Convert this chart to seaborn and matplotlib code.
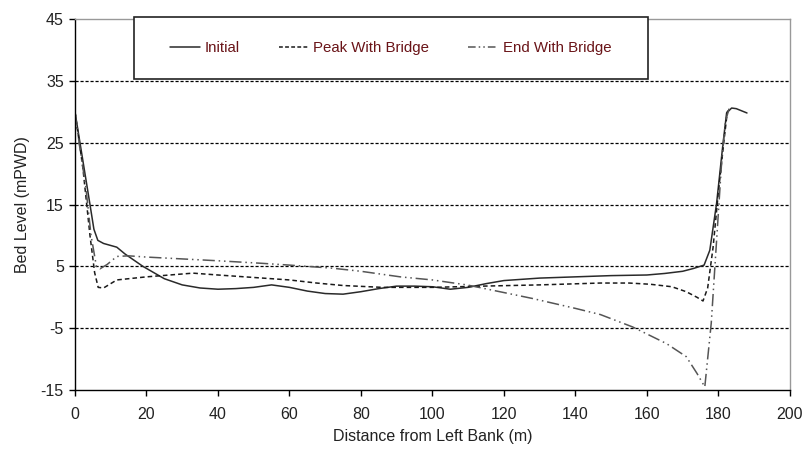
import numpy as np
import pandas as pd
import matplotlib
matplotlib.use("Agg")
import matplotlib.pyplot as plt
from matplotlib.patches import Rectangle
from matplotlib.lines import Line2D
import seaborn as sns

# ---- data ----
initial_x = [0, 1.4, 4.2, 5.3, 6.4, 8, 11.7, 14, 19, 25, 30, 35, 40, 45, 50, 55, 60, 65,
             70, 75, 80, 85, 90, 95, 100, 105, 110, 115, 120, 130, 140, 150, 160, 165,
             170, 173, 176, 177.6, 179.5, 181.3, 182.3, 183.7, 185, 188]
initial_y = [30, 25, 15, 11, 9.2, 8.7, 8.1, 7.0, 5.0, 3.0, 2.0, 1.5, 1.3, 1.4, 1.6, 2.0,
             1.6, 1.0, 0.6, 0.5, 0.9, 1.4, 1.8, 1.8, 1.7, 1.3, 1.6, 2.2, 2.7, 3.1, 3.3,
             3.5, 3.6, 3.85, 4.2, 4.65, 5.2, 7.6, 15.2, 24.9, 29.8, 30.6, 30.5, 29.8]

peak_x = [0, 2.2, 4.2, 5.5, 6.5, 8, 11.7, 20, 33, 40, 50, 60, 67.6, 75, 86, 100, 114,
          130, 147, 155, 161, 167, 171, 174, 175.7, 177, 178.5, 180, 181.5, 182.5, 183.5]
peak_y = [30, 21, 10, 4, 1.6, 1.5, 2.8, 3.3, 3.9, 3.6, 3.2, 2.8, 2.3, 1.9, 1.6, 1.6, 1.8,
          2.0, 2.3, 2.3, 2.1, 1.7, 0.9, 0.0, -0.6, 1.5, 8, 17, 25, 30, 30.6]

end_x = [0, 1.4, 3, 4.5, 6, 7, 9, 11.7, 15, 20, 30, 40, 52, 60, 72, 80, 91, 100, 109.6,
         118, 128, 140, 147, 156, 165.5, 171, 174, 176.2, 178, 179.5, 181, 182, 183]
end_y = [30, 24, 18, 10, 5, 4.6, 5.3, 6.6, 6.7, 6.5, 6.2, 5.9, 5.5, 5.2, 4.7, 4.2, 3.3,
         2.8, 2.0, 1.0, -0.2, -1.8, -2.8, -4.8, -7.5, -9.6, -12.3, -14.5, -4.2, 9.2,
         22.7, 28.5, 30.5]

series_names = ["Initial", "Peak With Bridge", "End With Bridge"]
x_ticks = list(range(0, 201, 20))
y_ticks = list(range(-15, 46, 10))

df = pd.concat([
    pd.DataFrame({"x": initial_x, "y": initial_y, "s": series_names[0]}),
    pd.DataFrame({"x": peak_x, "y": peak_y, "s": series_names[1]}),
    pd.DataFrame({"x": end_x, "y": end_y, "s": series_names[2]}),
], ignore_index=True)

sns.set_style("white")
plt.rcParams["font.family"] = ["Liberation Sans", "DejaVu Sans"]
plt.rcParams["axes.unicode_minus"] = False

fig = plt.figure(figsize=(8.06, 4.5), dpi=100)
ax = fig.add_axes([0.093, 0.1333, 0.887, 0.8245])

palette = {series_names[0]: "#2a2a2a", series_names[1]: "#1a1a1a", series_names[2]: "#555555"}
dash_end = (8, 2.5, 1, 2.5, 1, 2.5)
dashes = {series_names[0]: "", series_names[1]: (3, 2), series_names[2]: dash_end}

sns.lineplot(data=df, x="x", y="y", hue="s", style="s", palette=palette, dashes=dashes,
             sort=False, estimator=None, linewidth=1.1, ax=ax, legend=False)

# gridlines
for yv in y_ticks[1:-1]:
    ax.axhline(yv, color="black", linestyle=(0, (2.5, 1.5)), linewidth=0.9, zorder=0)

ax.set_xlim(0, 200)
ax.set_ylim(-15, 45)
ax.set_xticks(x_ticks)
ax.set_yticks(y_ticks)
ax.tick_params(axis="both", direction="out", length=4, width=1, color="black",
               labelsize=11.5, labelcolor="#222222", bottom=True, left=True)
ax.tick_params(axis="x", pad=8)
ax.tick_params(axis="y", pad=4)
ax.set_xlabel("Distance from Left Bank (m)", fontsize=11.5, color="#222222", labelpad=5)
ax.set_ylabel("Bed Level (mPWD)", fontsize=11.5, color="#222222", labelpad=8)

for side in ["left", "bottom"]:
    ax.spines[side].set_color("black")
    ax.spines[side].set_linewidth(1.0)
for side in ["top", "right"]:
    ax.spines[side].set_color("#999999")
    ax.spines[side].set_linewidth(1.0)

# legend box
box = Rectangle((0.0825, 0.838), 0.719, 0.167, transform=ax.transAxes,
                facecolor="white", edgecolor="#222222", linewidth=1.2, zorder=5,
                clip_on=False)
ax.add_patch(box)

handles = [
    Line2D([], [], color=palette[series_names[0]], linewidth=1.1),
    Line2D([], [], color=palette[series_names[1]], linewidth=1.1, dashes=(2.5, 1.5)),
    Line2D([], [], color=palette[series_names[2]], linewidth=1.1, dashes=(5, 2, 1, 2, 1, 2)),
]
leg = ax.legend(handles, series_names, ncol=3, loc="center",
                bbox_to_anchor=(0.0825 + 0.719 / 2, 0.838 + 0.167 / 2),
                frameon=False, fontsize=10.8, handlelength=2.0, handletextpad=0.3,
                columnspacing=2.6, borderaxespad=0, borderpad=0)
leg.set_zorder(6)
for t in leg.get_texts():
    t.set_color("#6a1418")

fig.savefig("out.png", dpi=100)
